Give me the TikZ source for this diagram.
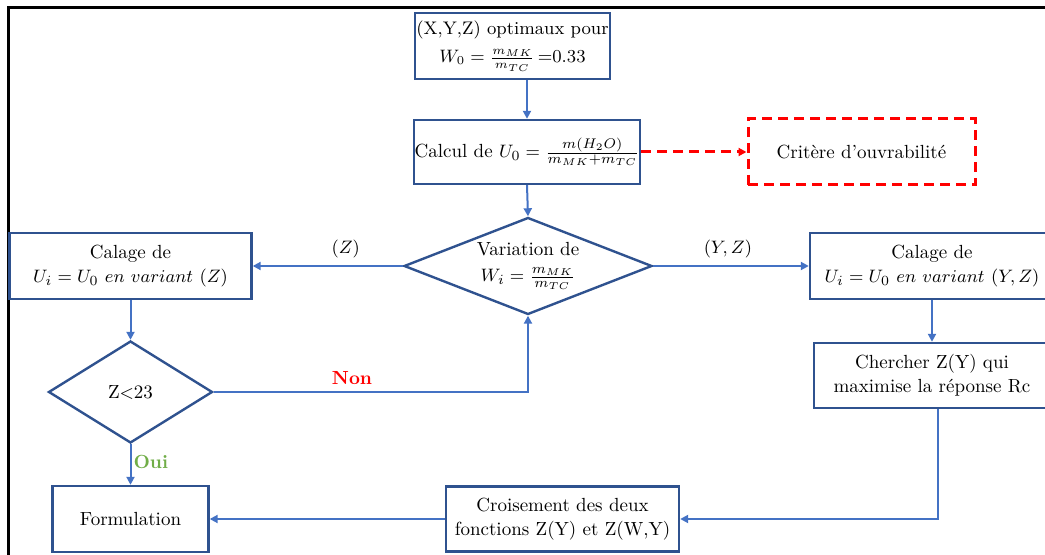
\documentclass[tikz,border=0pt]{standalone}
\usepackage{amsmath}
\usetikzlibrary{arrows.meta,shapes.geometric}

\definecolor{boxblue}{RGB}{47,82,143}
\definecolor{arrblue}{RGB}{68,114,196}
\definecolor{nonred}{RGB}{255,0,0}
\definecolor{ouigreen}{RGB}{112,173,71}

\begin{document}
\begin{tikzpicture}[
  x=0.5pt,y=-0.5pt,
  font=\fontsize{9.5}{12}\selectfont,
  box/.style={draw=boxblue,line width=1.2pt,align=center,inner sep=0pt,minimum height=33pt},
  dec/.style={diamond,draw=boxblue,line width=1.2pt,align=center,inner sep=-8pt},
  arr/.style={draw=arrblue,line width=1pt,-{Triangle[length=4pt,width=4pt]}},
  dasharr/.style={draw=nonred,line width=1.5pt,dash pattern=on 5pt off 3pt}
]

\useasboundingbox (0,0) rectangle (1045,555);
\clip (0,0) rectangle (1045,555);

% frame
\draw[line width=1.5pt] (8,560) -- (8,8) -- (1050,8);

% top
\node[box,minimum width=97.5pt,font=\fontsize{9.1}{11}\selectfont] (top) at (512.5,46) {(X,Y,Z) optimaux pour\\[3pt] $W_0=\frac{m_{MK}}{m_{TC}}$\,=0.33};
\node[box,minimum width=113pt,minimum height=32pt] (calc) at (527,152) {Calcul de $U_0=\frac{m(H_2O)}{m_{MK}+m_{TC}}$};
\node[box,dasharr,minimum width=113.5pt] (crit) at (861.5,152) {Crit\`ere d'ouvrabilit\'e};

% middle
\node[dec,minimum width=124pt,minimum height=48.5pt] (varW) at (528,266) {Variation de\\[1pt] $W_i=\frac{m_{MK}}{m_{TC}}$};
\node[box,minimum width=121pt] (calZ) at (130.5,266) {Calage de\\ $U_i=U_0\ en\ variant\ (Z)$};
\node[box,minimum width=122pt] (calYZ) at (932,266) {Calage de\\ $U_i=U_0\ en\ variant\ (Y,Z)$};

% bottom
\node[dec,minimum width=82pt,minimum height=51pt] (testZ) at (130.5,392) {Z$<$23};
\node[box,minimum width=118pt,minimum height=32.5pt] (cherch) at (932,375.5) {Chercher Z(Y) qui\\ maximise la r\'eponse Rc};
\node[box,minimum width=116.5pt,minimum height=32.5pt] (crois) at (562.5,519) {Croisement des deux\\ fonctions Z(Y) et Z(W,Y)};
\node[box,minimum width=78pt] (form) at (130.5,519) {Formulation};

% connectors
\draw[arr] (top.south -| calc.north) -- (calc.north);
\draw[dasharr,-{Triangle[length=4pt,width=4pt]}] (calc) -- (crit);

\foreach \a/\b in {calc/varW,calZ/testZ,calYZ/cherch}
  \draw[arr] (\a.south) -- (\b.north);

\draw[arr] (varW.west) -- node[above,pos=0.38]{$(Z)$} (calZ.east);
\draw[arr] (varW.east) -- node[above,pos=0.48]{$(Y,Z)$} (calYZ.west);

\draw[arr] (testZ.east) -- node[above,pos=0.44,text=nonred,font=\fontsize{9.5}{12}\selectfont\bfseries]{Non} (testZ.east -| varW.south) -- (varW.south);
\draw[arr] (testZ.south) -- node[right,pos=0.45,inner sep=1pt,text=ouigreen,font=\fontsize{9.5}{12}\selectfont\bfseries]{Oui} (form.north);

\draw[arr] ([xshift=3pt]cherch.south) |- (crois.east);
\draw[arr] (crois.west) -- (form.east);

\end{tikzpicture}
\end{document}
